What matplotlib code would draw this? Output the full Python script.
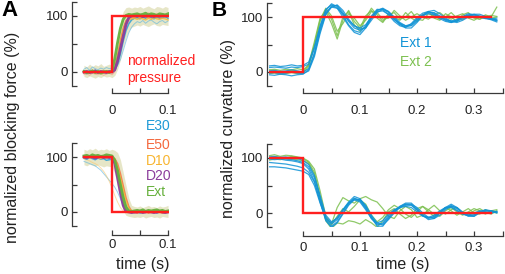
import matplotlib
matplotlib.use("Agg")
import matplotlib.pyplot as plt
import numpy as np

plt.rcParams['font.family'] = ['Liberation Sans', 'DejaVu Sans']

# ---------------- data ----------------
t_a = [-0.05, -0.045, -0.04, -0.035, -0.03, -0.025, -0.02, -0.015, -0.01, -0.005,
       0.0, 0.005, 0.01, 0.015, 0.02, 0.025, 0.03, 0.035, 0.04, 0.045, 0.05,
       0.055, 0.06, 0.065, 0.07, 0.075, 0.08, 0.085, 0.09, 0.095, 0.1]

# panel A top (step up)
band_lo_up = [-8, -10, -7, -9, -11, -8, -10, -7, -9, -8, -10,
              -6, 5, 22, 45, 62, 74, 80, 82,
              84, 82, 85, 83, 81, 84, 86, 83, 82, 85, 84, 83]
band_hi_up = [12, 9, 14, 10, 13, 11, 15, 10, 12, 14, 11,
              32, 62, 88, 108, 115, 116, 114, 116,
              115, 117, 114, 116, 118, 115, 113, 117, 116, 114, 117, 115]
e30_up = [1, -3, 2, -1, 3, 0, -2, 2, -1, 1, 0,
          3, 14, 32, 55, 74, 86, 93, 96,
          97, 95, 98, 96, 99, 97, 95, 98, 96, 97, 99, 96]
e50_up = [-2, 1, -1, 3, 0, -2, 1, -1, 2, 0, 1,
          8, 30, 56, 78, 92, 97, 99, 98,
          100, 98, 101, 99, 97, 100, 102, 99, 98, 100, 101, 99]
d10_up = [2, 0, -2, 1, -1, 2, 0, 3, -1, 1, 0,
          6, 26, 52, 74, 88, 94, 95, 96,
          94, 96, 95, 93, 96, 94, 97, 95, 94, 96, 95, 93]
d20_up = [0, 1, -1, 0, 2, -1, 1, 0, -1, 1, 0,
          4, 20, 42, 64, 85, 97, 100, 101,
          100, 101, 99, 100, 102, 100, 99, 101, 100, 102, 100, 101]
ext_up = [1, -1, 0, 2, -1, 1, -2, 0, 1, -1, 2,
          24, 53, 78, 94, 101, 103, 102, 103,
          104, 102, 103, 105, 102, 104, 103, 101, 104, 103, 102, 104]
slow_up = [5, 8, 3, 9, 6, 4, 7, 5, 8, 6, 7,
           8, 12, 22, 38, 55, 70, 80, 86,
           90, 88, 92, 87, 91, 93, 89, 86, 90, 92, 88, 91]
fast_up = [-5, -3, -6, -2, -4, -5, -3, -6, -4, -2, -5,
           0, 15, 38, 60, 79, 90, 96, 99,
           101, 104, 99, 103, 106, 102, 100, 105, 103, 99, 104, 102]

# panel A bottom (step down)
band_lo_dn = [86, 84, 87, 85, 83, 86, 84, 82, 84, 83, 82,
              70, 45, 20, 2, -6, -8, -9, -10,
              -9, -10, -8, -11, -9, -8, -10, -9, -11, -8, -9, -10]
band_hi_dn = [114, 112, 115, 113, 116, 112, 114, 113, 115, 112, 114,
              112, 108, 95, 72, 48, 25, 12, 10,
              9, 11, 8, 10, 12, 9, 10, 8, 11, 9, 10, 12]
e30_dn = [98, 96, 99, 97, 95, 98, 96, 97, 94, 95, 96,
          90, 74, 52, 30, 12, 3, 0, -1,
          1, -2, 0, 2, -1, 0, 1, -2, 0, 1, -1, 0]
e50_dn = [101, 99, 102, 100, 103, 99, 101, 100, 102, 99, 100,
          97, 88, 70, 48, 26, 10, 2, -1,
          -2, 0, -1, 1, -2, 0, -1, 1, 0, -2, -1, 0]
d10_dn = [99, 101, 98, 100, 102, 99, 97, 100, 98, 101, 99,
          95, 82, 62, 40, 20, 7, 2, 0,
          1, 0, 2, -1, 1, 0, 2, 1, -1, 0, 1, 2]
d20_dn = [100, 99, 101, 100, 98, 100, 101, 99, 100, 99, 100,
          88, 62, 35, 12, 1, 0, -1, 0,
          0, 1, -1, 0, 1, 0, -1, 0, 1, 0, -1, 0]
ext_dn = [102, 103, 101, 104, 102, 103, 101, 102, 104, 103, 102,
          94, 75, 50, 26, 8, 2, 1, 2,
          3, 2, 4, 1, 3, 2, 3, 4, 2, 3, 1, 2]
early_blue_dn = [92, 90, 88, 86, 84, 80, 76, 70, 64, 58, 52,
                 45, 36, 24, 12, 4, 0, -2, -1,
                 2, 0, 3, 1, -1, 2, 0, 1, 3, 0, 2, 1]
early_yel_dn = [96, 95, 93, 90, 88, 85, 80, 74, 66, 56, 44,
                30, 18, 8, 2, -1, 0, 1, 0,
                1, -1, 0, 2, 0, 1, -1, 0, 2, 1, 0, 1]

press_t_a = [-0.05, 0.0, 0.0, 0.1]
press_up_a = [0, 0, 100, 100]
press_dn_a = [100, 100, 0, 0]

# panel B
t_b = [-0.06, -0.05, -0.04, -0.03, -0.02, -0.01, 0.0, 0.01, 0.02, 0.03, 0.04,
       0.05, 0.06, 0.07, 0.08, 0.09, 0.1, 0.11, 0.12, 0.13, 0.14, 0.15, 0.16,
       0.17, 0.18, 0.19, 0.2, 0.21, 0.22, 0.23, 0.24, 0.25, 0.26, 0.27, 0.28,
       0.29, 0.3, 0.31, 0.32, 0.33, 0.34]

ext1_up = [
    [8, 9, 8, 7, 9, 8, 10, 14, 42, 82, 112, 124, 119, 104, 86, 75, 72, 84, 102, 114, 113,
     104, 92, 84, 81, 88, 99, 107, 110, 105, 97, 92, 90, 95, 101, 106, 104, 100, 97, 96, 93],
    [-5, -6, -4, -5, -7, -5, -4, 4, 32, 74, 106, 120, 121, 108, 92, 80, 76, 82, 98, 112, 115,
     108, 96, 86, 82, 85, 95, 104, 109, 107, 100, 94, 90, 93, 99, 104, 105, 101, 98, 95, 91],
    [2, 3, 1, 2, 4, 2, 0, 6, 35, 78, 108, 118, 116, 106, 94, 84, 80, 86, 100, 110, 111,
     105, 95, 88, 84, 87, 96, 103, 106, 104, 99, 95, 93, 95, 100, 103, 102, 100, 98, 97, 95],
    [11, 12, 10, 11, 13, 11, 12, 18, 46, 84, 114, 122, 116, 100, 84, 72, 68, 80, 98, 112, 116,
     110, 98, 88, 80, 80, 90, 102, 110, 112, 106, 98, 92, 90, 94, 100, 105, 105, 101, 97, 94],
    [-2, -1, -3, -2, 0, -2, -3, 2, 28, 70, 104, 118, 122, 112, 96, 84, 78, 80, 94, 108, 114,
     110, 100, 90, 84, 84, 92, 102, 108, 108, 102, 96, 92, 92, 97, 102, 104, 102, 99, 96, 98],
]
ext2_up = [
    [-3, -2, -4, -3, -1, -3, -2, 10, 48, 92, 114, 96, 66, 100, 110, 86, 74, 98, 116, 104, 92,
     106, 100, 94, 108, 98, 92, 104, 110, 98, 94, 106, 100, 92, 104, 108, 98, 96, 104, 100, 118],
    [1, 2, 0, 1, 3, 1, 0, 14, 55, 98, 110, 88, 60, 94, 112, 92, 80, 102, 112, 98, 90,
     104, 108, 96, 100, 110, 96, 94, 106, 102, 96, 100, 108, 98, 95, 102, 100, 96, 100, 103, 101],
    [4, 5, 3, 5, 4, 6, 4, 12, 50, 95, 116, 102, 74, 88, 106, 98, 84, 94, 110, 108, 96,
     98, 112, 102, 94, 100, 106, 100, 96, 104, 108, 100, 96, 102, 106, 98, 94, 100, 102, 98, 100],
]
ext1_dn = [
    [100, 100, 99, 98, 97, 95, 92, 84, 64, 28, -8, -20, -12, 4, 18, 27, 22, 8, -10, -22, -18,
     -5, 5, 12, 16, 15, 5, -5, -10, -6, 2, 10, 12, 5, -2, -5, -3, 3, 5, 2, 3],
    [92, 91, 90, 89, 87, 85, 82, 74, 56, 22, -12, -24, -16, 0, 16, 26, 24, 10, -8, -20, -20,
     -8, 4, 10, 14, 14, 6, -4, -8, -8, 0, 8, 14, 8, 0, -4, -4, 2, 4, 4, 1],
    [102, 103, 101, 102, 100, 99, 96, 88, 68, 32, -4, -16, -10, 6, 20, 30, 26, 12, -6, -24, -24,
     -10, 2, 12, 18, 18, 8, -4, -12, -10, 0, 10, 16, 10, 0, -6, -6, 2, 6, 4, 2],
    [84, 84, 83, 82, 80, 78, 76, 70, 50, 18, -10, -18, -8, 6, 18, 24, 20, 6, -10, -18, -14,
     -2, 6, 10, 12, 10, 2, -6, -8, -4, 4, 10, 10, 4, -2, -4, 0, 4, 2, 0, 2],
    [98, 97, 98, 96, 95, 93, 90, 80, 58, 20, -14, -26, -18, -2, 14, 24, 24, 14, -4, -18, -22,
     -12, 0, 10, 16, 16, 10, 0, -8, -10, -4, 6, 12, 10, 2, -4, -6, 0, 4, 4, 0],
]
ext2_dn = [
    [104, 106, 103, 105, 104, 102, 100, 94, 80, 40, -6, -20, 10, 28, 22, 18, 26, 30, 24, 20, 8,
     -6, -10, 4, 12, 6, -8, -4, 6, 14, 4, -2, 6, 10, 0, -4, 4, 8, 2, -2, 4],
    [100, 102, 101, 100, 103, 101, 99, 92, 74, 30, -14, -28, -18, -20, -14, -16, -20, -12, -18, -26, -14,
     2, 8, -2, -10, -4, 8, 12, 2, -6, 0, 10, 4, -4, 2, 8, 0, -2, 6, 2, 0],
    [96, 98, 97, 99, 98, 97, 95, 90, 70, 26, -10, -22, -6, 8, 2, 12, 24, 16, -4, -16, -8,
     6, 14, 8, -2, -8, 2, 12, 6, -2, -6, 4, 10, 2, -4, 2, 8, 4, -2, 4, 6],
]
press_t_b = [-0.06, 0.0, 0.0, 0.33]
press_up_b = [0, 0, 100, 100]
press_dn_b = [100, 100, 0, 0]

group_names = ['E30', 'E50', 'D10', 'D20', 'Ext']
group_colors = ['#1e9ad6', '#f4683d', '#f8b530', '#8b3c9b', '#66b03c']
RED = '#ff1f1f'
BLUE = '#1093d6'
GREEN = '#7cc04f'

# ---------------- layout ----------------
W, H = 505, 274
fig = plt.figure(figsize=(W / 100, H / 100), dpi=100)


def add_ax(x0, x1, ytop, ybot):
    return fig.add_axes([x0 / W, 1 - ybot / H, (x1 - x0) / W, (ybot - ytop) / H])


def style(ax, xlim, xbounds, xticks, xlabels, xout, yout, xpad):
    ax.set_xlim(*xlim)
    ax.set_ylim(-25, 125)
    ax.patch.set_alpha(0)
    for s in ['top', 'right']:
        ax.spines[s].set_visible(False)
    for s in ['left', 'bottom']:
        ax.spines[s].set_color('#3a3a3a')
        ax.spines[s].set_linewidth(0.9)
    ax.spines['left'].set_position(('outward', yout))
    ax.spines['left'].set_bounds(-25, 125)
    ax.spines['bottom'].set_position(('outward', xout))
    ax.spines['bottom'].set_bounds(*xbounds)
    ax.set_yticks([-25, 0, 50, 100, 125])
    ax.set_yticklabels(['', '0', '', '100', ''])
    ax.set_xticks(xticks)
    ax.set_xticklabels(xlabels)
    ax.tick_params(axis='both', direction='in', length=3.5, width=0.9,
                   color='#3a3a3a', labelsize=9.5, labelcolor='#222222')
    ax.tick_params(axis='x', pad=xpad)
    ax.tick_params(axis='y', pad=3)


xa_lim = (-0.053, 0.101)
xb_lim = (-0.06, 0.35)
a_x0 = 112 + xa_lim[0] * 560
a_x1 = 112 + xa_lim[1] * 560
b_x0 = 303 + xb_lim[0] * 570
b_x1 = 303 + xb_lim[1] * 570

ax_a1 = add_ax(a_x0, a_x1, 2, 86)
ax_a2 = add_ax(a_x0, a_x1, 143.25, 225.75)
ax_b1 = add_ax(b_x0, b_x1, 3.25, 85.75)
ax_b2 = add_ax(b_x0, b_x1, 144.25, 226.75)

xa_ticks = [0, 0.05, 0.1]
xa_labels = ['0', '', '0.1']
xb_ticks = [0, 0.05, 0.1, 0.15, 0.2, 0.25, 0.3, 0.35]
xb_labels = ['0', '', '0.1', '', '0.2', '', '0.3', '']

style(ax_a1, xa_lim, (0, 0.1), xa_ticks, xa_labels, 5.0, 7.4, 8.5)
style(ax_a2, xa_lim, (0, 0.1), xa_ticks, xa_labels, 6.7, 7.4, 2.5)
style(ax_b1, xb_lim, (0, 0.35), xb_ticks, xb_labels, 5.2, 1.3, 8.5)
style(ax_b2, xb_lim, (0, 0.35), xb_ticks, xb_labels, 6.7, 1.3, 4.0)


def draw_a(ax, lo, hi, groups, extras, press):
    ax.fill_between(t_a, lo, hi, color='#f5b27a', alpha=0.22, lw=0)
    ax.fill_between(t_a, lo, hi, color='#a8d07a', alpha=0.25, lw=0)
    for ys, c in extras:
        ax.plot(t_a, ys, color=c, lw=0.7, alpha=0.6)
    for i, (ys, c) in enumerate(zip(groups, group_colors)):
        lw = 2.0 if i >= 3 else 1.1
        ax.plot(t_a, ys, color=c, lw=lw, alpha=0.95 if i >= 3 else 0.8)
    ax.plot(press_t_a, press, color=RED, lw=1.7, solid_joinstyle='miter')


draw_a(ax_a1, band_lo_up, band_hi_up,
       [e30_up, e50_up, d10_up, d20_up, ext_up],
       [(slow_up, '#5ab4e0'), (fast_up, '#f59a7a')], press_up_a)
draw_a(ax_a2, band_lo_dn, band_hi_dn,
       [e30_dn, e50_dn, d10_dn, d20_dn, ext_dn],
       [(early_blue_dn, '#5ab4e0'), (early_yel_dn, '#f8c870')], press_dn_a)


def draw_b(ax, blues, greens, press):
    for ys in greens:
        ax.plot(t_b, ys, color=GREEN, lw=0.9, alpha=0.85)
    for ys in blues:
        ax.plot(t_b, ys, color=BLUE, lw=0.9, alpha=0.85)
    ax.plot(press_t_b, press, color=RED, lw=1.7, solid_joinstyle='miter')


draw_b(ax_b1, ext1_up, ext2_up, press_up_b)
draw_b(ax_b2, ext1_dn, ext2_dn, press_dn_b)

# ---------------- texts ----------------
def ftext(x, y, s, **kw):
    fig.text(x / W, 1 - y / H, s, **kw)


ftext(10, 11, 'A', fontsize=16, fontweight='bold', ha='center', va='center')
ftext(219, 11, 'B', fontsize=15, fontweight='bold', ha='center', va='center')
ftext(13, 137, 'normalized blocking force (%)', fontsize=11.5, rotation=90,
      ha='center', va='center', color='#222222')
ftext(228, 128, 'normalized curvature (%)', fontsize=11.5, rotation=90,
      ha='center', va='center', color='#222222')
ftext(143, 265, 'time (s)', fontsize=11.5, ha='center', va='center', color='#222222')
ftext(403, 265, 'time (s)', fontsize=11.5, ha='center', va='center', color='#222222')
ftext(127, 61, 'normalized', fontsize=10, color=RED, ha='left', va='center')
ftext(127, 78, 'pressure', fontsize=10, color=RED, ha='left', va='center')

legend_y = [126, 145, 161, 176, 192]
for name, c, y in zip(group_names, group_colors, legend_y):
    ftext(146, y, name, fontsize=10, color=c, ha='left', va='center')

ftext(400, 43, 'Ext 1', fontsize=10, color=BLUE, ha='left', va='center')
ftext(400, 62, 'Ext 2', fontsize=10, color=GREEN, ha='left', va='center')

fig.savefig('out.png', dpi=100)
